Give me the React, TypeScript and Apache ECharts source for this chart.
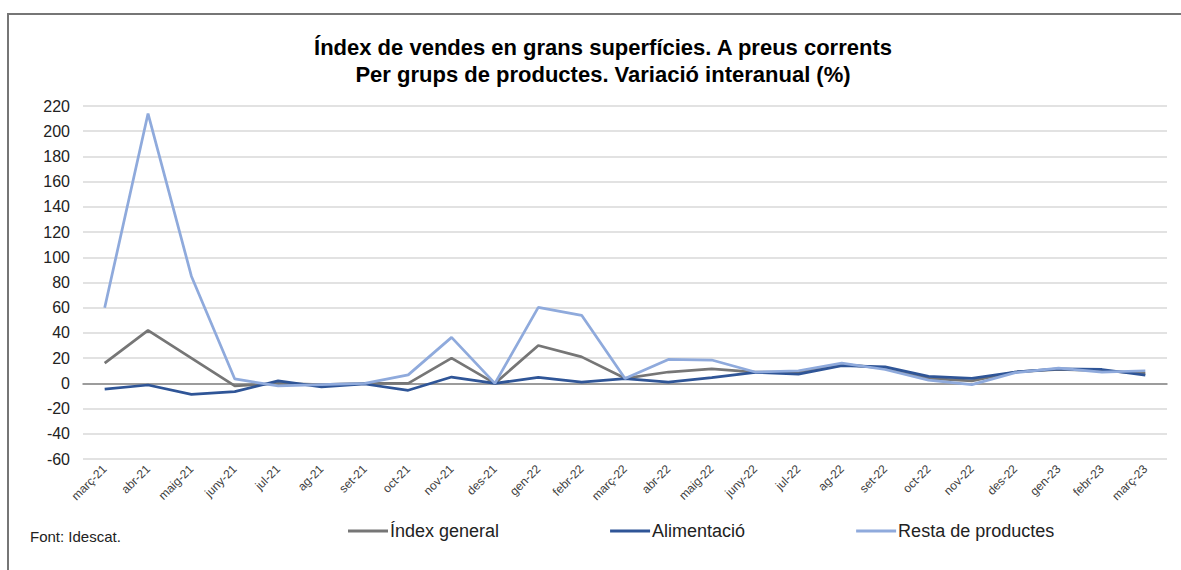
import React, { useEffect, useRef } from "react";
import * as echarts from "echarts";

const categories = [
  "març-21", "abr-21", "maig-21", "juny-21", "jul-21", "ag-21", "set-21", "oct-21", "nov-21", "des-21",
  "gen-22", "febr-22", "març-22", "abr-22", "maig-22", "juny-22", "jul-22", "ag-22", "set-22", "oct-22",
  "nov-22", "des-22", "gen-23", "febr-23", "març-23",
];
const indexGeneral = [16, 42, 20, -2, 0, -1, 0, 0, 20, 0, 30, 21, 4, 9, 11.5, 9, 9, 15, 12, 4, 2, 9, 11, 10, 8];
const alimentacio = [-4.5, -1.3, -8.7, -6.6, 2, -2.8, -0.5, -5.5, 5, 0, 4.8, 1, 3.8, 1, 4.5, 8.7, 7.4, 14, 13, 5.5, 4, 9, 11.5, 11, 6.5];
const restaProductes = [60, 214, 85, 3.5, -2, -1, 0, 6.7, 36.5, 0, 60.3, 54, 3.8, 19, 18.5, 9, 10, 16, 11, 2.5, -1, 8.5, 12, 9, 10];
const seriesNames = ["Índex general", "Alimentació", "Resta de productes"];
const yMin = -60;
const yMax = 220;
const yStep = 20;

const FONT = "'Liberation Sans', Arial, sans-serif";

export default function App() {
  const ref = useRef<HTMLDivElement>(null);
  useEffect(() => {
    if (!ref.current) return;
    const chart = echarts.init(ref.current, undefined, { renderer: "svg" });
    chart.setOption({
      animation: false,
      backgroundColor: "#ffffff",
      textStyle: { fontFamily: FONT },
      title: {
        text: "Índex de vendes en grans superfícies. A preus corrents\nPer grups de productes. Variació interanual (%)",
        left: 598,
        top: 29,
        textAlign: "center",
        textStyle: { fontFamily: FONT, fontSize: 22, fontWeight: "bold", color: "#000", lineHeight: 27 },
      },
      graphic: [
        {
          type: "rect",
          shape: { x: 8, y: 14, width: 1200, height: 600 },
          style: { fill: "none", stroke: "#767676", lineWidth: 2 },
          silent: true,
        },
        {
          type: "text",
          left: 30,
          top: 529,
          style: { text: "Font: Idescat.", font: `15px ${FONT}`, fill: "#222" },
        },
      ],
      legend: {
        left: 348,
        top: 522,
        padding: 0,
        itemWidth: 40,
        itemHeight: 3,
        itemGap: 111,
        icon: "rect",
        textStyle: { fontFamily: FONT, fontSize: 18, color: "#222", padding: [0, 0, 0, -3] },
        data: seriesNames,
      },
      grid: { left: 83, right: 14, top: 106, bottom: 111, containLabel: false },
      xAxis: {
        type: "category",
        data: categories,
        boundaryGap: true,
        axisLine: { onZero: true, lineStyle: { color: "#858585", width: 1.5 } },
        axisTick: { show: false },
        axisLabel: {
          rotate: 45,
          interval: 0,
          fontFamily: FONT,
          fontSize: 12,
          color: "#404040",
          margin: 8,
        },
      },
      yAxis: {
        type: "value",
        min: yMin,
        max: yMax,
        interval: yStep,
        axisLine: { show: false },
        axisTick: { show: false },
        axisLabel: { fontFamily: FONT, fontSize: 16, color: "#222", margin: 13 },
        splitLine: { lineStyle: { color: "#d9d9d9", width: 1.5 } },
      },
      series: [
        {
          name: seriesNames[0],
          type: "line",
          data: indexGeneral,
          symbol: "none",
          lineStyle: { color: "#767676", width: 2.75 },
          itemStyle: { color: "#767676" },
        },
        {
          name: seriesNames[1],
          type: "line",
          data: alimentacio,
          symbol: "none",
          lineStyle: { color: "#2f5597", width: 2.75 },
          itemStyle: { color: "#2f5597" },
        },
        {
          name: seriesNames[2],
          type: "line",
          data: restaProductes,
          symbol: "none",
          lineStyle: { color: "#8faadc", width: 2.75 },
          itemStyle: { color: "#8faadc" },
        },
      ],
    });
    return () => chart.dispose();
  }, []);
  return (
    <div
      ref={ref}
      style={{ position: "fixed", left: 0, top: 0, width: 1181, height: 570, background: "#fff" }}
    />
  );
}
